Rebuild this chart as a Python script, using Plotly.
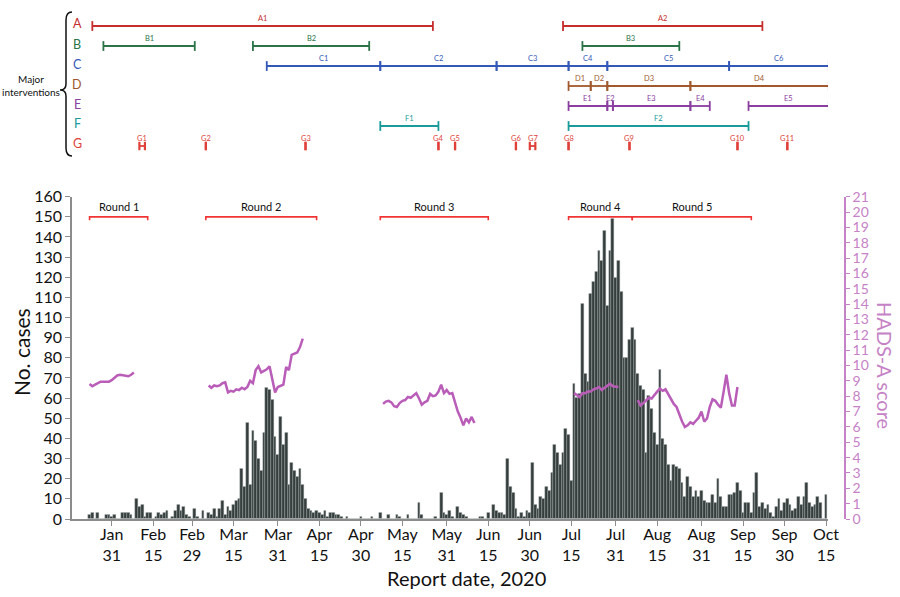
import plotly.graph_objects as go
import pandas as pd

# ---------------- data ----------------
CASES_START = "2020-01-23"
cases = [2, 3, 0, 3, 0, 0, 2, 2, 1, 2, 0, 0, 3, 3, 3, 2, 0, 10, 6, 7, 1, 3, 3, 0, 1, 3, 2, 3, 4, 0,
         1, 4, 7, 4, 6, 2, 1, 0, 5, 1, 0, 4, 0, 3, 2, 5, 1, 5, 9, 2, 6, 4, 7, 9, 10, 25, 16, 48, 17, 44,
         39, 30, 24, 43, 65, 64, 59, 41, 32, 51, 37, 43, 17, 28, 24, 21, 25,
         17, 10, 5, 4, 3, 4, 3, 2, 4, 1, 3, 3, 2, 2, 1, 0, 1, 0, 0, 0, 0, 1, 0, 0, 0,
         1, 0, 0, 3, 0, 0, 2, 0, 0, 2, 1, 0, 0, 2, 0, 0, 0, 8, 2, 0, 0, 0, 0, 1, 0, 13, 3, 2, 4, 1, 0,
         6, 3, 2, 1, 0, 0, 0, 0, 1, 1, 0, 3, 0, 7, 4, 3, 3, 2,
         30, 16, 13, 5, 1, 3, 1, 4, 3,
         28, 7, 5, 11, 10, 16, 14, 23, 37, 33,
         27, 33, 45, 42, 19, 67, 60, 62, 107, 72,
         68, 112, 118, 123, 133, 128, 143, 106, 133, 149,
         120, 128, 113, 80, 80, 89, 95, 89, 72, 66,
         64, 33, 61, 55, 43, 37, 74, 40, 37, 27,
         19, 27, 26, 25, 18, 11, 21, 16, 11, 14, 11,
         14, 9, 8, 8, 12, 8, 20, 11, 6, 6, 12, 12, 13, 18, 14, 3, 8, 8, 3, 13, 23, 6, 8, 5, 7, 3, 1,
         6, 10, 4, 8, 10, 7, 4, 5, 11, 7, 11, 18, 8, 6, 7, 11, 8, 0, 12]

hads_starts = ["2020-01-23", "2020-03-06", "2020-05-08", "2020-07-16", "2020-08-08"]
hads_r1 = [8.8, 8.65, 8.75, 8.85, 8.95, 8.95, 8.95, 8.95, 9.05, 9.2, 9.35, 9.4, 9.35, 9.3, 9.3, 9.4, 9.55]
hads_r2 = [8.7, 8.55, 8.7, 8.65, 8.7, 8.85, 8.9, 8.25, 8.35, 8.3, 8.45, 8.4, 8.55, 8.45, 8.6, 9.0, 8.85,
           9.7, 9.95, 9.55, 9.65, 9.75, 9.95, 9.2, 8.25, 8.6, 8.65, 8.75, 9.9, 9.7, 10.7, 10.8, 10.85,
           11.2, 11.75]
hads_r3 = [7.5, 7.65, 7.7, 7.6, 7.35, 7.3, 7.55, 7.7, 7.75, 7.95, 7.9, 8.05, 8.2, 7.85, 7.45, 7.6, 7.7,
           8.15, 8.0, 8.05, 8.3, 8.75, 8.2, 8.4, 8.15, 8.2, 7.6, 7.0, 6.6, 6.1, 6.55, 6.3, 6.65, 6.25]
hads_r4 = [8.2, 8.05, 7.95, 8.2, 8.2, 8.3, 8.3, 8.45, 8.5, 8.6, 8.4, 8.55, 8.65, 8.8, 8.65, 8.6, 8.6]
hads_r5 = [7.75, 7.4, 7.55, 7.7, 7.9, 7.85, 8.1, 8.3, 8.5, 8.35, 8.45, 8.1, 7.85, 7.5, 7.3, 6.8, 6.35,
           6.0, 6.1, 6.3, 6.2, 6.4, 6.6, 7.0, 6.35, 6.55, 7.3, 7.8, 7.7, 7.45, 7.25, 8.3, 9.4, 8.2,
           7.4, 7.4, 8.6]

round_labels = ["Round 1", "Round 2", "Round 3", "Round 4", "Round 5"]
round_starts = ["2020-01-23", "2020-03-05", "2020-05-07", "2020-07-14", "2020-08-06"]
round_ends = ["2020-02-13", "2020-04-14", "2020-06-15", "2020-08-06", "2020-09-18"]

row_letters = ["A", "B", "C", "D", "E", "F", "G"]
row_colors = ["#c62d2d", "#2a7448", "#3458b8", "#a0582c", "#8a3ea0", "#1a9a9a", "#e0403a"]

iv_rows = ["A", "A", "B", "B", "B", "C", "C", "C", "C", "C", "C", "D", "D", "D", "D",
           "E", "E", "E", "E", "E", "F", "F",
           "G", "G", "G", "G", "G", "G", "G", "G", "G", "G", "G"]
iv_labels = ["A1", "A2", "B1", "B2", "B3", "C1", "C2", "C3", "C4", "C5", "C6", "D1", "D2", "D3", "D4",
             "E1", "E2", "E3", "E4", "E5", "F1", "F2",
             "G1", "G2", "G3", "G4", "G5", "G6", "G7", "G8", "G9", "G10", "G11"]
iv_starts = ["2020-01-24", "2020-07-12", "2020-01-28", "2020-03-22", "2020-07-19",
             "2020-03-27", "2020-05-07", "2020-06-18", "2020-07-14", "2020-07-28", "2020-09-10",
             "2020-07-14", "2020-07-22", "2020-07-28", "2020-08-27",
             "2020-07-14", "2020-07-28", "2020-07-30", "2020-08-27", "2020-09-17",
             "2020-05-07", "2020-07-14",
             "2020-02-10", "2020-03-05", "2020-04-10", "2020-05-28", "2020-06-03", "2020-06-25",
             "2020-06-30", "2020-07-14", "2020-08-05", "2020-09-13", "2020-10-01"]
iv_ends = ["2020-05-26", "2020-09-22", "2020-03-01", "2020-05-03", "2020-08-23",
           "2020-05-07", "2020-06-18", "2020-07-14", "2020-07-28", "2020-09-10", "2020-10-16",
           "2020-07-22", "2020-07-28", "2020-08-27", "2020-10-16",
           "2020-07-28", "2020-07-30", "2020-08-27", "2020-09-03", "2020-10-16",
           "2020-05-28", "2020-09-17",
           "2020-02-12", "2020-03-05", "2020-04-10", "2020-05-28", "2020-06-03", "2020-06-25",
           "2020-07-02", "2020-07-14", "2020-08-05", "2020-09-13", "2020-10-01"]

xtick_vals = ["2020-01-31", "2020-02-15", "2020-02-29", "2020-03-15", "2020-03-31", "2020-04-15",
              "2020-04-30", "2020-05-15", "2020-05-31", "2020-06-15", "2020-06-30", "2020-07-15",
              "2020-07-31", "2020-08-15", "2020-08-31", "2020-09-15", "2020-09-30", "2020-10-15"]
xtick_text = ["Jan<br>31", "Feb<br>15", "Feb<br>29", "Mar<br>15", "Mar<br>31", "Apr<br>15",
              "Apr<br>30", "May<br>15", "May<br>31", "Jun<br>15", "Jun<br>30", "Jul<br>15",
              "Jul<br>31", "Aug<br>15", "Aug<br>31", "Sep<br>15", "Sep<br>30", "Oct<br>15"]

ytick_vals = list(range(0, 161, 10))
ytick_text = ["0", "10", "20", "30", "40", "50", "60", "70", "80", "90", "110", "110", "120",
              "130", "140", "150", "160"]
y2tick_vals = list(range(0, 22))

# ---------------- layout geometry ----------------
W, H = 900, 597
ML, MR, MT, MB = 72, 55, 0, 78
PW, PH = W - ML - MR, H - MT - MB


def px(x):
    return (x - ML) / PW


def py(y):
    return (PH - (y - MT)) / PH


FONT = "Lato, 'Open Sans', sans-serif"
BAR_COLOR = "#363d3d"
LINE_COLOR = "#b95db9"
AXIS2_COLOR = "#c682c6"
ROUND_COLOR = "#f03434"
GRAY = "#8c8c8c"

fig = go.Figure()

# bars
case_dates = pd.date_range(CASES_START, periods=len(cases), freq="D")
fig.add_trace(go.Bar(x=case_dates, y=cases, marker=dict(color=BAR_COLOR, line=dict(color="#a9b0b0", width=0.4)),
                     xaxis="x", yaxis="y", showlegend=False, hoverinfo="x+y"))

# HADS lines
for start, vals in zip(hads_starts, [hads_r1, hads_r2, hads_r3, hads_r4, hads_r5]):
    d = pd.date_range(start, periods=len(vals), freq="D")
    fig.add_trace(go.Scatter(x=d, y=vals, mode="lines", line=dict(color=LINE_COLOR, width=2.5),
                             xaxis="x", yaxis="y2", showlegend=False))

# round brackets
bx, by = [], []
for s, e in zip(round_starts, round_ends):
    bx += [s, s, e, e, None]
    by += [148.3, 150, 150, 148.3, None]
fig.add_trace(go.Scatter(x=bx, y=by, mode="lines", line=dict(color=ROUND_COLOR, width=1.6),
                         xaxis="x", yaxis="y", showlegend=False, hoverinfo="skip"))

annotations = []


def ann(**kw):
    kw.setdefault("showarrow", False)
    kw.setdefault("xanchor", "center")
    kw.setdefault("yanchor", "middle")
    annotations.append(kw)


for lab, s, e in zip(round_labels, round_starts, round_ends):
    mid = pd.Timestamp(s) + (pd.Timestamp(e) - pd.Timestamp(s)) / 2
    ann(x=mid, y=155.2, xref="x", yref="y", text=lab, font=dict(size=11, color="#111", family=FONT))

# interventions
row_y = {r: 7 - i for i, r in enumerate(row_letters)}
for r, col in zip(row_letters, row_colors):
    xs, ys = [], []
    for rr, lab, s, e in zip(iv_rows, iv_labels, iv_starts, iv_ends):
        if rr != r:
            continue
        xs += [s, e, None]
        ys += [row_y[r], row_y[r], None]
        mid = pd.Timestamp(s) + (pd.Timestamp(e) - pd.Timestamp(s)) / 2
        ann(x=mid, y=row_y[r] + 0.36, xref="x", yref="y3", text=lab,
            font=dict(size=7.5, color=col, family=FONT))
    fig.add_trace(go.Scatter(x=xs, y=ys, mode="lines+markers", xaxis="x", yaxis="y3",
                             line=dict(color=col, width=1.8),
                             marker=dict(symbol="line-ns", size=7 if r != "G" else 6,
                                         line=dict(color=col, width=1.8 if r != "G" else 2.2)),
                             showlegend=False, hoverinfo="skip"))
    ann(x=px(77), y=py(26 + (7 - row_y[r]) * 20 - 2), xref="paper", yref="paper",
        text=r, font=dict(size=12.5, color=col, family=FONT))

ann(x=px(31), y=py(85), xref="paper", yref="paper", text="Major<br>interventions",
    font=dict(size=10, color="#111", family=FONT), align="center")

# axis titles
ann(x=px(21), y=py(352), xref="paper", yref="paper", text="No. cases", textangle=-90,
    font=dict(size=21, color="#111", family=FONT))
ann(x=px(885), y=py(365), xref="paper", yref="paper", text="HADS-A score", textangle=90,
    font=dict(size=20, color=AXIS2_COLOR, family=FONT))
ann(x=px(466), y=py(578), xref="paper", yref="paper", text="Report date, 2020",
    font=dict(size=20, color="#111", family=FONT))

# brace
brace = (f"M {px(72)},{py(12)} Q {px(66)},{py(12)} {px(66)},{py(20)} L {px(66)},{py(84)} "
         f"Q {px(66)},{py(90)} {px(60)},{py(90)} Q {px(66)},{py(90)} {px(66)},{py(96)} "
         f"L {px(66)},{py(148)} Q {px(66)},{py(156)} {px(72)},{py(156)}")
shapes = [dict(type="path", path=brace, xref="paper", yref="paper", line=dict(color="#111", width=1.5))]

base = pd.Timestamp("2020-01-31")
xr = [base + pd.Timedelta(days=-14.34), base + pd.Timedelta(days=258.7)]

main_top = py(196.7)
fig.update_layout(
    width=W, height=H, margin=dict(l=ML, r=MR, t=MT, b=MB, autoexpand=False),
    paper_bgcolor="white", plot_bgcolor="white", bargap=0, showlegend=False,
    font=dict(family=FONT, color="#111"),
    xaxis=dict(type="date", range=xr, domain=[0, px(828)], anchor="y", showline=True, linecolor=GRAY,
               linewidth=1.5, ticks="outside", ticklen=5, tickcolor=GRAY, tickwidth=1.2,
               tickvals=xtick_vals, ticktext=xtick_text, showgrid=False, zeroline=False,
               automargin=False, ticklabelstandoff=-5,
               tickfont=dict(size=16, color="#111", family=FONT)),
    yaxis=dict(range=[0, 160], domain=[0, main_top], showline=True, linecolor=GRAY, linewidth=1.5,
               ticks="outside", ticklen=5, tickcolor=GRAY, tickwidth=1.2, tickvals=ytick_vals,
               ticktext=ytick_text, showgrid=False, zeroline=False, automargin=False,
               tickfont=dict(size=16, color="#111", family=FONT)),
    yaxis2=dict(range=[0, 21], overlaying="y", side="right", anchor="free", position=1.0,
                showline=True, linecolor=AXIS2_COLOR, linewidth=1.5, ticks="outside", ticklen=4,
                tickcolor=AXIS2_COLOR, tickvals=y2tick_vals, showgrid=False, zeroline=False,
                automargin=False, tickfont=dict(size=14, color=AXIS2_COLOR, family=FONT)),
    yaxis3=dict(domain=[py(160), py(10)], range=[0.3, 7.8], visible=False, anchor="x", automargin=False),
    annotations=annotations, shapes=shapes,
)

fig.write_html("out.html", config={"displayModeBar": False},
               post_script="document.body.style.margin='0px';document.body.style.overflow='hidden';")
